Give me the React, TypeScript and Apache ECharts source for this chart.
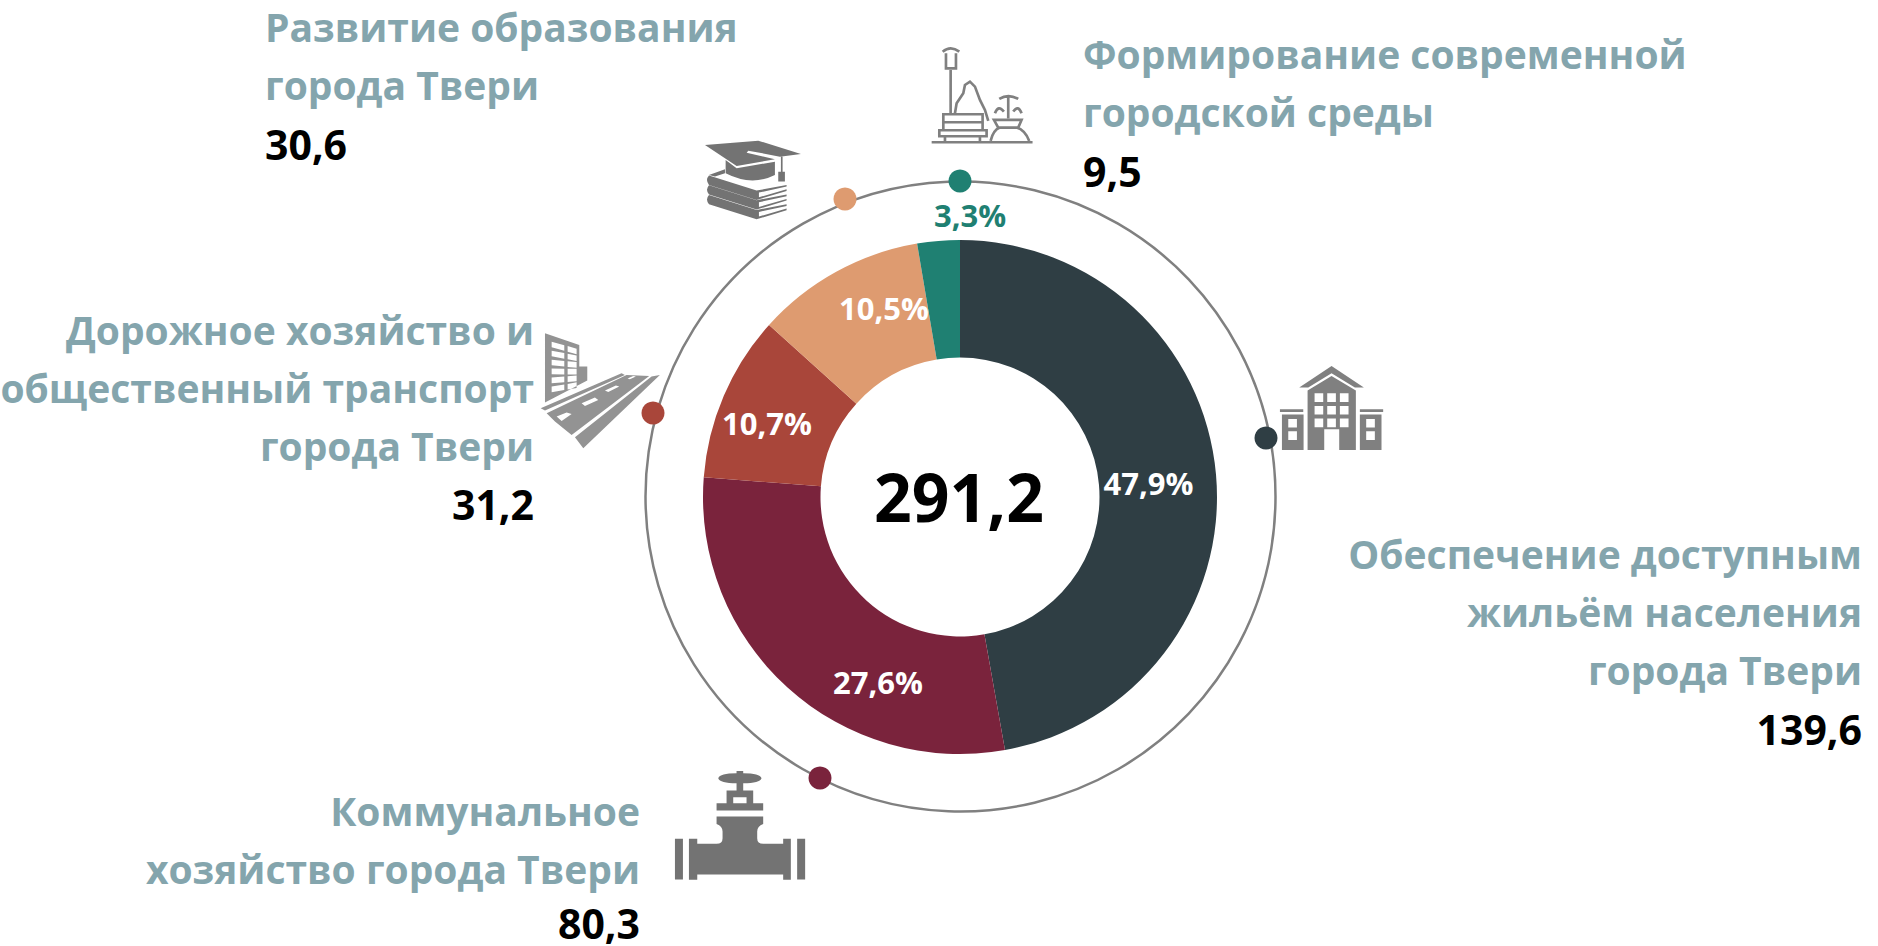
import React, { useEffect, useRef } from "react";
import * as echarts from "echarts";

const categories = [
  "Обеспечение доступным\nжильём населения\nгорода Твери",
  "Коммунальное\nхозяйство города Твери",
  "Дорожное хозяйство и\nобщественный транспорт\nгорода Твери",
  "Развитие образования\nгорода Твери",
  "Формирование современной\nгородской среды",
];
// Printed amounts (as labelled in the reference)
const valueLabels = ["139,6", "80,3", "31,2", "30,6", "9,5"];
const percentLabels = ["47,9%", "27,6%", "10,7%", "10,5%", "3,3%"];
const totalLabel = "291,2";
const sliceShares = [47.2, 29.02, 10.45, 10.66, 2.67];
const colors = ["#2F3E44", "#7A233C", "#A9463A", "#DE9B70", "#1F8072"];
const labelShift = [[-12, 4], [53, 36], [-8, 5], [21, -13], [27, -81]];
const FONT = '"Open Sans", sans-serif';
const TEXT = "#84A5AD";
const GREY = "#737373";
const cx = 960, cy = 497;

const box = (x: number, y: number, w: number, h: number) => `M${x} ${y}h${w}v${h}h${-w}z`;
const hole = (x: number, y: number, w: number, h: number) => `M${x} ${y}v${h}h${w}v${-h}z`;

const windows = [284, 322, 360].flatMap((x) => [160, 198, 236].map((y) => hole(x, y, 26, 26))).join("");
const houseD =
  "M335 78L432 143H405L335 100L265 143H238Z" +
  "M263 152L335 108L408 152V330H358V268H313V330H263Z" + windows +
  box(180, 208, 70, 8) + box(420, 208, 70, 8) +
  box(186, 224, 65, 106) + hole(205, 237, 26, 26) + hole(205, 274, 26, 26) +
  box(420, 224, 65, 106) + hole(439, 237, 26, 26) + hole(439, 274, 26, 26);

const valveD =
  "M295 235Q300 220 350 220V213H370V220Q420 220 425 235Q420 250 370 250H350Q300 250 295 235Z" +
  box(350, 250, 20, 22) +
  "M320 272H400V310H380V292H340V310H320Z" +
  box(290, 310, 140, 22) +
  "M290 350H430V372Q412 378 412 395V415Q412 432 430 432H490V417H513V540H490V524H232V540H207V417H232V432H290Q308 432 308 415V395Q308 378 290 372Z" +
  box(165, 417, 24, 122) + box(532, 417, 24, 122);

const book = (d: number) =>
  `M42 ${137 + d}L185 ${182 + d}L275 ${165 + d}V${170 + d}L192 ${188 + d}V${202 + d}L275 ${178 + d}V${183 + d}L185 ${210 + d}L42 ${165 + d}Q30 ${150 + d} 42 ${137 + d}Z`;
const capD =
  "M30 45L190 32L318 72L255 80L160 62L155 68L240 88L125 108Z" +
  "M92 90L125 115L240 95V135Q170 170 92 130Z" +
  box(258, 80, 5, 45) + "M250 125H270V155H250Z" +
  "M42 135L90 118V130L60 140Z" +
  book(0) + book(29) + book(58);

const winRow = (x: number, w: number, y: number, slope: number) =>
  `M${x} ${y}L${x} ${y + 17}L${x + w} ${y + 17 + w * slope}L${x + w} ${y + w * slope}Z`;
const bldgWins = [0, 1, 2, 3, 4, 5]
  .flatMap((r) => {
    const slope = 0.28 - r * 0.09;
    const y = 65 + r * 27;
    return [winRow(65, 38, y, slope), winRow(113, 27, y + 48 * slope, slope)];
  })
  .join("");
const roadD =
  "M45 40L148 75V140H172V182L45 248Z" + bldgWins +
  "M32 265L275 160L285 165L45 272Z" +
  "M50 280L290 165L358 168L125 345L75 305Z" +
  "M80 290L95 303L125 282L110 278Z" + "M155 250L165 258L205 240L195 233Z" + "M225 212L235 216L268 200L258 197Z" + "M293 176L300 178L318 170L310 168Z" +
  "M135 352L365 170L390 165L160 385Z";

const parkD =
  "M68 50Q92 30 118 50M78 55V100H108V55M92 105V238" +
  "M105 235L110 205L130 175L135 150L150 140L165 155L180 195L195 225L205 258" +
  box(70, 238, 118, 48) + "M70 262H188" + box(58, 286, 142, 18) + "M75 304V320M180 304V320" +
  "M35 322H338" +
  "M222 255H305L295 278H235ZM212 318Q220 285 240 278M290 278Q315 285 328 318" +
  "M265 250V185M238 192Q265 175 295 192M225 235Q235 208 252 230M280 230Q295 208 305 235";

echarts.graphic.registerShape("iconHouse", echarts.graphic.extendPath(houseD, {}) as any);
echarts.graphic.registerShape("iconValve", echarts.graphic.extendPath(valveD, {}) as any);
echarts.graphic.registerShape("iconCap", echarts.graphic.extendPath(capD, {}) as any);
echarts.graphic.registerShape("iconRoad", echarts.graphic.extendPath(roadD, {}) as any);
echarts.graphic.registerShape("iconPark", echarts.graphic.extendPath(parkD, {}) as any);

const dots = [[1266, 438], [820, 778], [653, 413], [845, 199], [960, 181]];

const blocks: { x: number; y: number; align: string; nudge: number }[] = [
  { x: 1862, y: 525, align: "right", nudge: 2 },
  { x: 640, y: 782, align: "right", nudge: -3 },
  { x: 534, y: 301, align: "right", nudge: 1 },
  { x: 265, y: -2, align: "left", nudge: 2 },
  { x: 1083, y: 25, align: "left", nudge: 2 },
];
const LINE = 57.6;

export default function App() {
  const ref = useRef<HTMLDivElement>(null);
  useEffect(() => {
    document.body.style.margin = "0";
    const chart = echarts.init(ref.current!, undefined, { renderer: "svg" });
    const icon = (type: string, x: number, y: number, fill: string) => ({
      type, x, y, scaleX: 1 / 3, scaleY: 1 / 3, silent: true, style: { fill },
    });
    const texts: any[] = [];
    categories.forEach((c, i) => {
      const n = c.split("\n").length;
      const b = blocks[i];
      texts.push({
        type: "text", x: b.x, y: b.y, silent: true,
        style: { text: c, fill: TEXT, font: `700 39px ${FONT}`, lineHeight: LINE, align: b.align, verticalAlign: "top" },
      });
      texts.push({
        type: "text", x: b.x, y: b.y + (n + 0.5) * LINE + b.nudge, silent: true,
        style: { text: valueLabels[i], fill: "#000", font: `700 41px ${FONT}`, lineHeight: 34, align: b.align, verticalAlign: "middle" },
      });
    });
    chart.setOption({
      animation: false,
      title: {
        text: totalLabel, left: 954, top: cy - 6, textAlign: "center", textVerticalAlign: "middle",
        textStyle: { fontFamily: FONT, fontWeight: 700, fontSize: 66, color: "#000" },
      },
      graphic: [
        { type: "circle", silent: true, shape: { cx: 960.5, cy: 496.5, r: 315 }, style: { fill: "none", stroke: "#808080", lineWidth: 2.5 } },
        ...dots.map((d, i) => ({
          type: "circle", silent: true, z: 5, shape: { cx: d[0], cy: d[1], r: 11.5 }, style: { fill: colors[i] },
        })),
        icon("iconHouse", 1220, 340, "#808080"),
        icon("iconValve", 620, 700, GREY),
        icon("iconCap", 695, 130, GREY),
        icon("iconRoad", 530, 320, "#939393"),
        { type: "iconPark", x: 920, y: 35, scaleX: 1 / 3, scaleY: 1 / 3, silent: true, style: { fill: "none", stroke: "#808080", lineWidth: 8 } },
        ...texts,
      ],
      series: [
        {
          type: "pie",
          center: [cx, cy],
          radius: [139.5, 257],
          startAngle: 90,
          silent: true,
          data: sliceShares.map((v, i) => ({
            value: v,
            itemStyle: { color: colors[i] },
            label: { color: i === 4 ? colors[4] : "#fff" },
          })),
          label: {
            position: "inside",
            fontFamily: FONT,
            fontWeight: 700,
            fontSize: 31,
            formatter: (p: any) => percentLabels[p.dataIndex],
          },
          labelLine: { show: false },
          labelLayout: (p: any) => ({ dx: labelShift[p.dataIndex][0], dy: labelShift[p.dataIndex][1] }),
        },
      ],
    });
    return () => chart.dispose();
  }, []);
  return <div ref={ref} style={{ position: "absolute", left: 0, top: 0, width: 1878, height: 946 }} />;
}
